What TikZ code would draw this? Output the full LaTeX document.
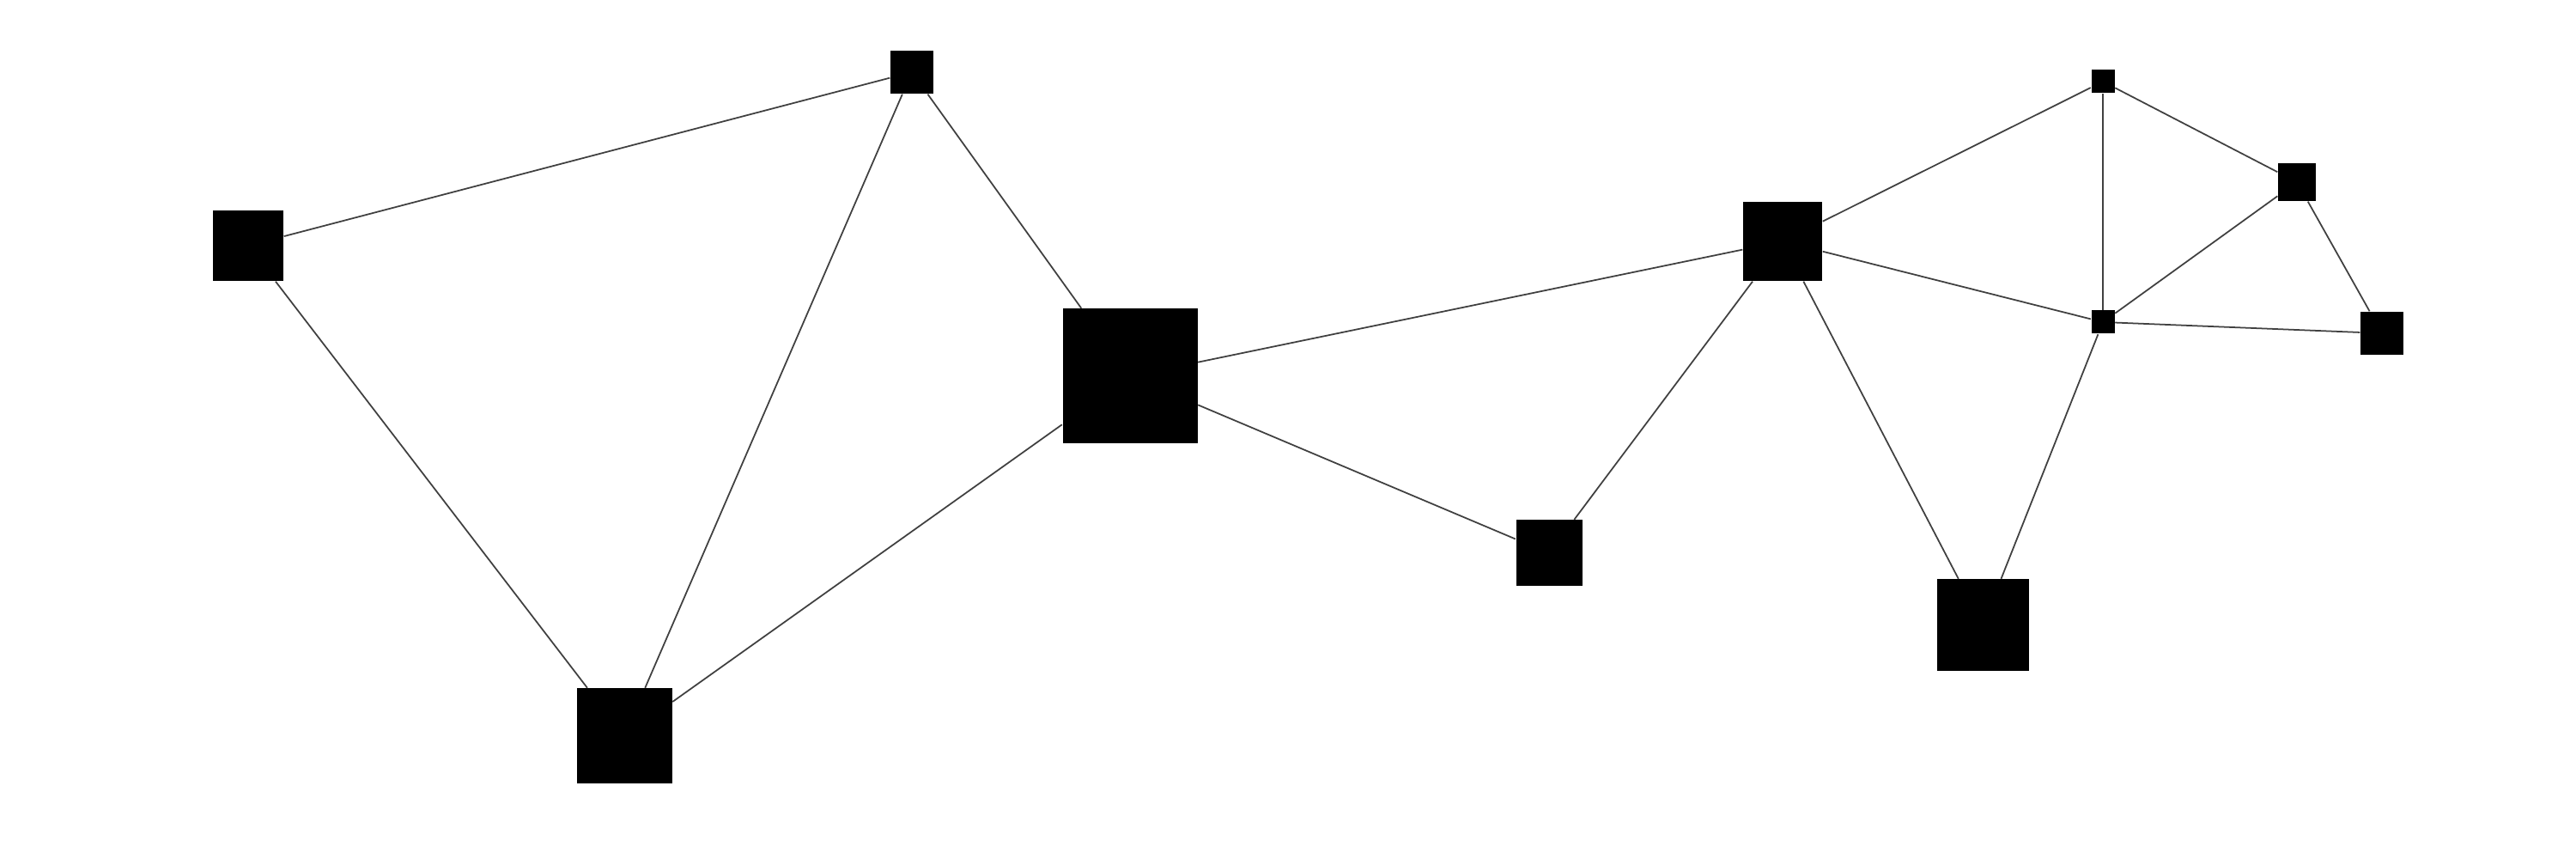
\documentclass[tikz,border=0pt]{standalone}
\usepackage{tikz}
\begin{document}
\begin{tikzpicture}[
    vertex/.style={draw=none, fill=black, inner sep=0pt, minimum size=#1},
    link/.style={draw=black!75, line width=0.5pt},
]
    \useasboundingbox (0,0) rectangle (30,10);

    % Vertices
    \node[vertex=0.82cm] (a) at (2.89,7.14) {};
    \node[vertex=0.50cm] (b) at (10.62,9.16) {};
    \node[vertex=1.57cm] (c) at (13.16,5.62) {};
    \node[vertex=1.11cm] (d) at (7.27,1.43) {};
    \node[vertex=0.77cm] (e) at (18.04,3.56) {};
    \node[vertex=0.92cm] (f) at (20.76,7.19) {};
    \node[vertex=0.27cm] (g) at (24.49,9.05) {};
    \node[vertex=0.44cm] (h) at (26.75,7.88) {};
    \node[vertex=0.27cm] (i) at (24.49,6.25) {};
    \node[vertex=0.50cm] (j) at (27.74,6.12) {};
    \node[vertex=1.07cm] (k) at (23.09,2.72) {};

    % Edges
    \foreach \u/\v in {a/b, a/d, b/d, b/c, c/d, c/f, c/e, e/f, f/g, f/i, f/k,
                       g/h, g/i, h/i, h/j, i/j, i/k}
        \draw[link] (\u) -- (\v);
\end{tikzpicture}
\end{document}
